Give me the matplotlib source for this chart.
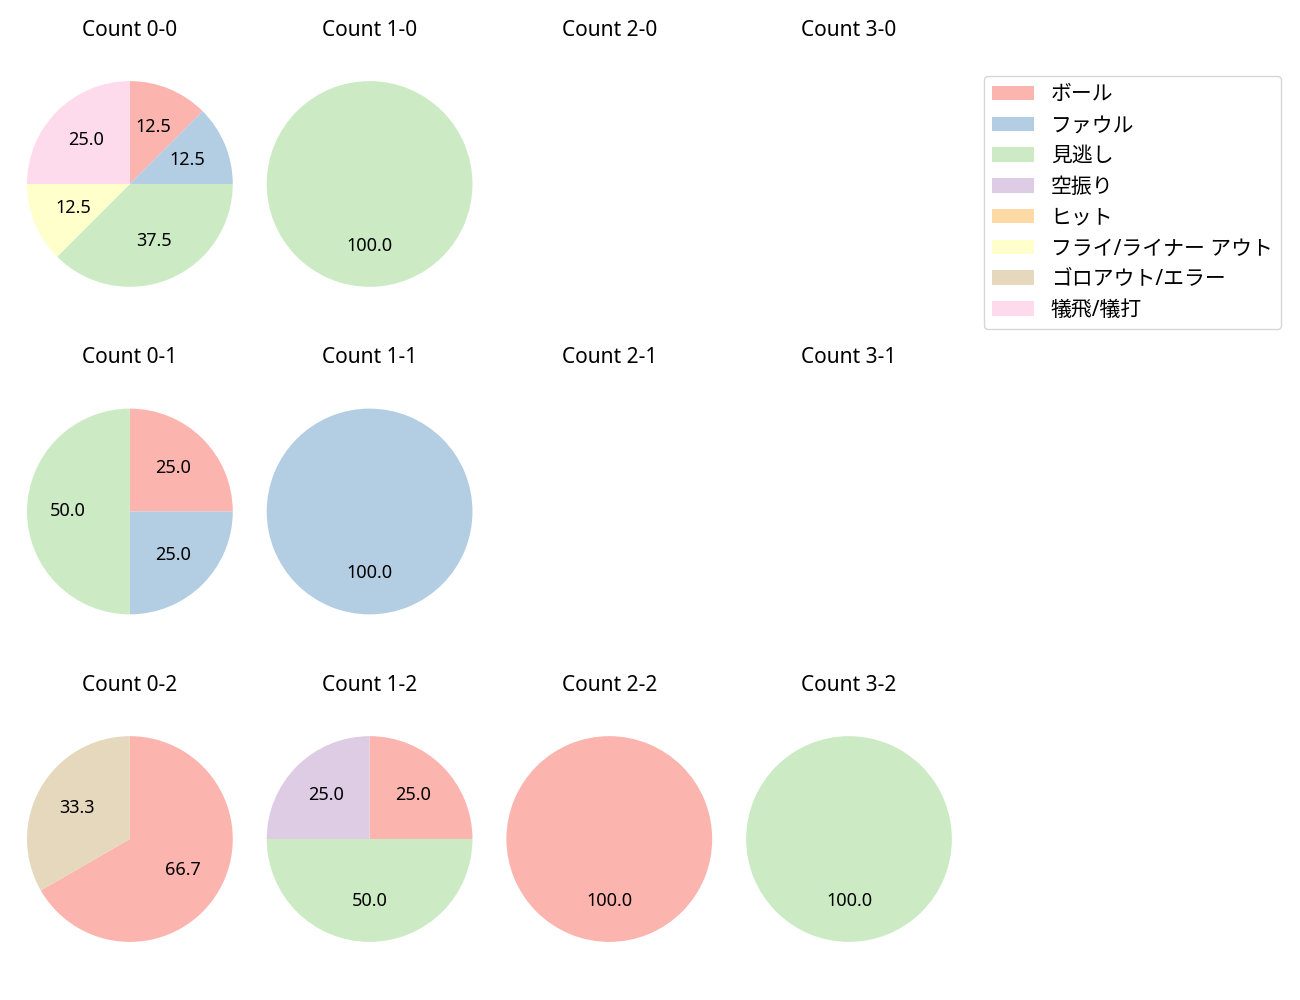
import matplotlib
matplotlib.use("Agg")
import matplotlib.pyplot as plt
from matplotlib.patches import Patch

plt.rcParams['font.family'] = ['Noto Sans', 'Noto Sans CJK JP', 'DejaVu Sans']

categories = ["ボール", "ファウル", "見逃し", "空振り", "ヒット",
              "フライ/ライナー アウト", "ゴロアウト/エラー", "犠飛/犠打"]
colors = plt.get_cmap("Pastel1").colors[:len(categories)]

balls = [0, 1, 2, 3]
strikes = [0, 1, 2]

# pitch outcome counts per ball-strike count, in category order
counts = {
    (0, 0): [1, 1, 3, 0, 0, 1, 0, 2],
    (1, 0): [0, 0, 1, 0, 0, 0, 0, 0],
    (0, 1): [1, 1, 2, 0, 0, 0, 0, 0],
    (1, 1): [0, 1, 0, 0, 0, 0, 0, 0],
    (0, 2): [2, 0, 0, 0, 0, 0, 1, 0],
    (1, 2): [1, 0, 2, 1, 0, 0, 0, 0],
    (2, 2): [1, 0, 0, 0, 0, 0, 0, 0],
    (3, 2): [0, 0, 1, 0, 0, 0, 0, 0],
}

fig, axes = plt.subplots(len(strikes), len(balls), figsize=(13, 10))
fig.subplots_adjust(left=0.001, right=0.752, top=0.956, bottom=0.021,
                    wspace=-0.068, hspace=0.17)

for si, s in enumerate(strikes):
    for bi, b in enumerate(balls):
        ax = axes[si, bi]
        ax.set_title(f"Count {b}-{s}", fontsize=15)
        vals = counts.get((b, s))
        if vals is None or sum(vals) == 0:
            ax.axis("off")
            continue
        idx = [i for i, v in enumerate(vals) if v > 0]
        ax.pie([vals[i] for i in idx], colors=[colors[i] for i in idx],
               autopct="%.1f", startangle=90, counterclock=False,
               textprops={"fontsize": 13})
        # keep the circle round while the box fills the whole cell
        pos = ax.get_position(original=True)
        ratio = (pos.height * fig.get_figheight()) / (pos.width * fig.get_figwidth())
        ax.set_aspect("auto")
        ax.set_xlim(-1.25, 1.25)
        ax.set_ylim(-1.25 * ratio, 1.25 * ratio)

handles = [Patch(facecolor=c, label=l) for c, l in zip(colors, categories)]
fig.legend(handles=handles, loc="upper right", borderaxespad=0,
           bbox_to_anchor=(1281 / 1300, 1 - 76 / 1000), fontsize=15,
           labelspacing=0.47)

fig.savefig("out.png", dpi=100)
